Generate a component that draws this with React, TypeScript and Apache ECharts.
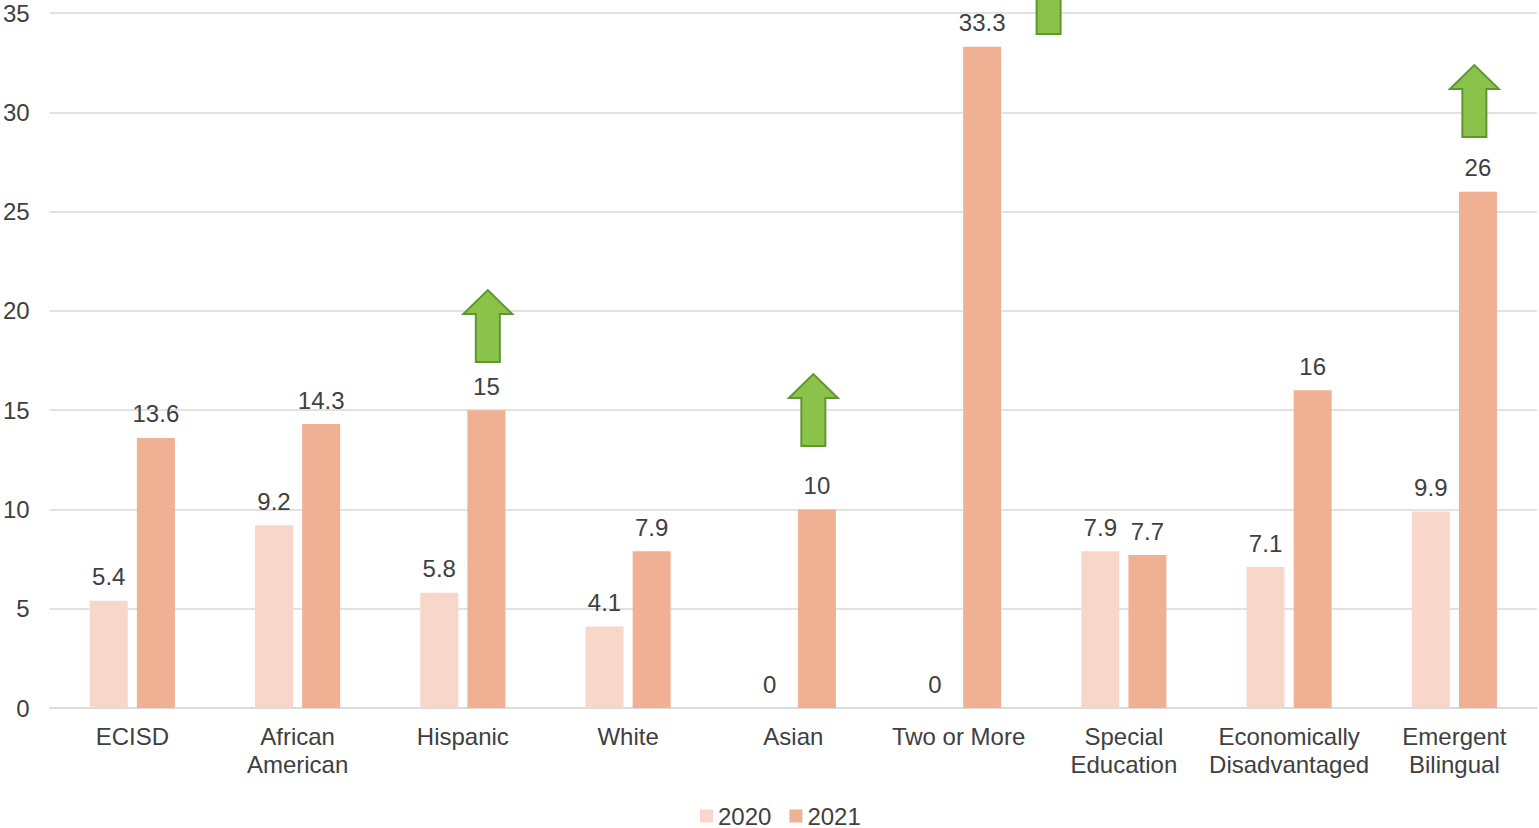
import React, { useEffect, useRef } from "react";
import * as echarts from "echarts";

const categories = [
  "ECISD",
  "African\nAmerican",
  "Hispanic",
  "White",
  "Asian",
  "Two or More",
  "Special\nEducation",
  "Economically\nDisadvantaged",
  "Emergent\nBilingual",
];
const values2020 = [5.4, 9.2, 5.8, 4.1, 0, 0, 7.9, 7.1, 9.9];
const values2021 = [13.6, 14.3, 15, 7.9, 10, 33.3, 7.7, 16, 26];
// arrows: category index, horizontal pixel offset from category center, value at arrow bottom
const arrowCats = [2, 4, 5, 8];
const arrowOffsets = [25, 20, 90, 20];
const arrowBottoms = [17.42, 13.19, 33.94, 28.75];

const FONT = "'Liberation Sans', Arial, sans-serif";
const TXT = "#404040";
const FS = 24;

export default function App() {
  const ref = useRef<HTMLDivElement>(null);
  useEffect(() => {
    if (!ref.current) return;
    const chart = echarts.init(ref.current, null, { renderer: "svg" });
    const labelCfg = {
      show: true,
      position: "top" as const,
      distance: 12,
      color: TXT,
      fontSize: FS,
      fontFamily: FONT,
    };
    chart.setOption({
      animation: false,
      textStyle: { fontFamily: FONT },
      grid: { left: 48, right: 2, top: 13, bottom: 120 },
      legend: {
        bottom: 0,
        left: 700,
        padding: 0,
        itemWidth: 13,
        itemHeight: 13,
        itemGap: 18,
        icon: "rect",
        textStyle: { color: TXT, fontSize: FS, fontFamily: FONT },
        data: ["2020", "2021"],
      },
      xAxis: {
        type: "category",
        data: categories,
        axisTick: { show: false },
        axisLine: { lineStyle: { color: "#d9d9d9", width: 1.5 } },
        axisLabel: {
          color: TXT,
          fontSize: FS,
          fontFamily: FONT,
          lineHeight: 28,
          margin: 14,
          interval: 0,
        },
      },
      yAxis: {
        type: "value",
        min: 0,
        max: 35,
        interval: 5,
        axisLabel: { color: TXT, fontSize: FS, fontFamily: FONT, margin: 20 },
        splitLine: { lineStyle: { color: "#d9d9d9", width: 1.5 } },
        axisLine: { show: false },
        axisTick: { show: false },
      },
      series: [
        {
          name: "2020",
          type: "bar",
          data: values2020,
          barWidth: 38,
          barGap: "24%",
          itemStyle: { color: "#F8D7CA" },
          label: labelCfg,
        },
        {
          name: "2021",
          type: "bar",
          data: values2021,
          barWidth: 38,
          barGap: "24%",
          itemStyle: { color: "#F0B094" },
          label: labelCfg,
        },
      ],
    });
    const graphics = arrowCats.map((c, i) => {
      const cx = (chart.convertToPixel({ xAxisIndex: 0 }, c) as number) + arrowOffsets[i];
      const by = chart.convertToPixel({ yAxisIndex: 0 }, arrowBottoms[i]) as number;
      return {
        type: "polygon",
        z: 100,
        shape: {
          points: [
            [cx - 12, by],
            [cx + 12, by],
            [cx + 12, by - 48],
            [cx + 24.5, by - 48],
            [cx, by - 72],
            [cx - 24.5, by - 48],
            [cx - 12, by - 48],
          ],
        },
        style: { fill: "#8BC34A", stroke: "#5E9732", lineWidth: 2 },
      };
    });
    chart.setOption({ graphic: graphics });
    return () => chart.dispose();
  }, []);
  return (
    <div
      ref={ref}
      style={{ position: "fixed", left: 0, top: 0, width: 1539, height: 828, background: "#fff" }}
    />
  );
}
